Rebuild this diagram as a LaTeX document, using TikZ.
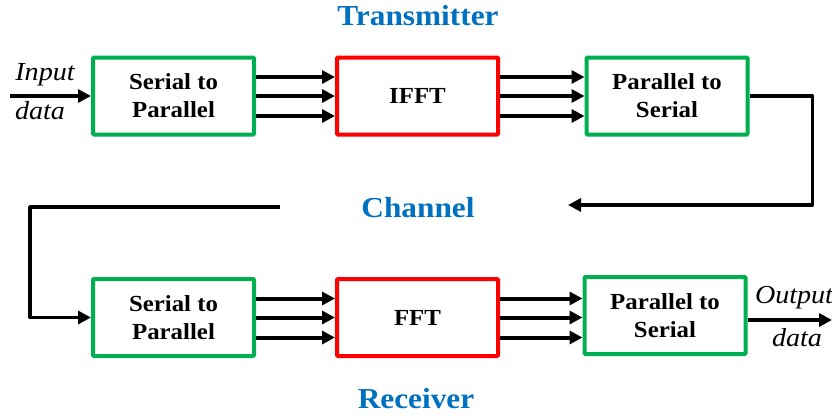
\documentclass[tikz,border=0pt]{standalone}
\usepackage{fontspec}
\setmainfont{Liberation Serif}[FakeStretch=1.08]
\usetikzlibrary{arrows.meta,calc}
\definecolor{bgreen}{RGB}{0,176,80}
\definecolor{bred}{RGB}{255,0,0}
\definecolor{tblue}{RGB}{0,112,192}
\begin{document}
\begin{tikzpicture}[x=1pt,y=-1pt,
  blockg/.style={draw=bgreen,line width=4pt,rounded corners=1pt,minimum width=161pt,minimum height=77pt,align=center,inner sep=0pt,font=\fontsize{23}{28}\selectfont\bfseries},
  blockr/.style={blockg,draw=bred},
  thickarrow/.style={line width=4pt,-{Triangle[length=13pt,width=13pt]}},
  fbline/.style={line width=3.5pt,line join=round},
  fbarrow/.style={fbline,-{Triangle[length=13pt,width=13pt]}},
  title/.style={text=tblue,font=\fontsize{29}{32}\selectfont\bfseries},
  lab/.style={font=\fontsize{26}{28}\selectfont\itshape}]
\useasboundingbox (0,0) rectangle (832,418);
% blocks
\node[blockg] (sp1) at (173.5,96) {Serial to\\Parallel};
\node[blockr] (ifft) at (417.5,96) {IFFT};
\node[blockg] (ps1) at (667,96) {Parallel to\\Serial};
\node[blockg] (sp2) at (173.5,317.5) {Serial to\\Parallel};
\node[blockr] (fft) at (417.5,317.5) {FFT};
\node[blockg] (ps2) at (665,315.5) {Parallel to\\Serial};
% titles
\node[title] (tx) at (418,16) {Transmitter};
\node[title] (ch) at (418,208) {Channel};
\node[title] (rx) at (416,399) {Receiver};
% labels
\node[lab] (inl) at (45,75) {Input};
\node[lab] (ind) at (40,111) {data};
\node[lab] (outl) at (794,298) {Output};
\node[lab] (outd) at (797,338) {data};
% parallel arrows
\foreach \a/\b in {sp1/ifft,ifft/ps1,sp2/fft,fft/ps2}{
  \draw[thickarrow] ([yshift=19pt]\a.east) coordinate (s1) -- (s1 -| \b.west);
  \draw[thickarrow] (\a.east) -- (\a.east -| \b.west);
  \draw[thickarrow] ([yshift=-20pt]\a.east) coordinate (s3) -- (s3 -| \b.west);
}
% input / output
\coordinate (in) at (10,96);
\draw[thickarrow] (in) -- (sp1.west);
\coordinate (out) at (832,320);
\draw[thickarrow] ([yshift=-4.5pt]ps2.east) -- (out);
% channel loop
\coordinate (cr) at (568,205);
\draw[fbarrow] (ps1.east) -- ++(63,0) |- (cr);
\coordinate (cl) at (280,207);
\draw[fbarrow] (cl) -- (30,207) |- (sp2.west);
\end{tikzpicture}
\end{document}
